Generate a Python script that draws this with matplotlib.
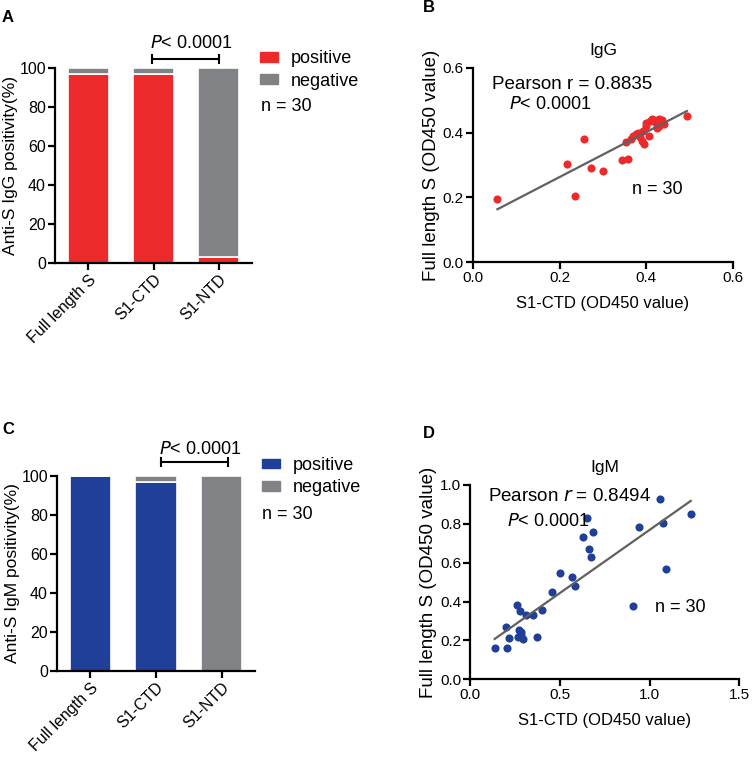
import matplotlib

matplotlib.use("Agg")

import matplotlib.pyplot as plt
import numpy as np
from matplotlib.patches import Patch

plt.rcParams["font.family"] = ["Liberation Sans", "DejaVu Sans"]

# Bar panels (percent of 30 samples)
antigens = ["Full length S", "S1-CTD", "S1-NTD"]
igg_positive = [96.7, 96.7, 3.3]
igg_negative = [3.3, 3.3, 96.7]
igm_positive = [100.0, 96.7, 0.0]
igm_negative = [0.0, 3.3, 100.0]

# IgG scatter: S1-CTD vs full length S (OD450)
igg_ctd = [0.057, 0.236, 0.218, 0.256, 0.273, 0.301, 0.343, 0.358, 0.353, 0.493,
           0.365, 0.370, 0.375, 0.380, 0.385, 0.390, 0.395, 0.392, 0.398, 0.400,
           0.405, 0.408, 0.412, 0.418, 0.422, 0.425, 0.430, 0.435, 0.440, 0.428]
igg_full = [0.194, 0.203, 0.303, 0.379, 0.292, 0.281, 0.314, 0.320, 0.371, 0.450,
            0.380, 0.390, 0.395, 0.400, 0.385, 0.375, 0.365, 0.405, 0.420, 0.430,
            0.390, 0.435, 0.442, 0.440, 0.430, 0.415, 0.442, 0.438, 0.425, 0.420]

# IgM scatter
igm_ctd = [0.136, 0.206, 0.201, 0.216, 0.262, 0.279, 0.310, 0.351, 0.398, 0.273,
           0.283, 0.264, 0.292, 0.370, 0.455, 0.500, 0.565, 0.584, 0.626, 0.651,
           0.686, 0.660, 0.673, 0.905, 0.942, 1.056, 1.076, 1.089, 1.229, 0.283]
igm_full = [0.160, 0.163, 0.269, 0.214, 0.384, 0.350, 0.333, 0.329, 0.357, 0.254,
            0.245, 0.218, 0.208, 0.220, 0.448, 0.545, 0.528, 0.479, 0.734, 0.828,
            0.756, 0.671, 0.629, 0.377, 0.784, 0.928, 0.803, 0.568, 0.852, 0.228]

RED = "#ec2a2c"
GRAY = "#808285"
BLUE = "#1f3f98"
LINE = "#606060"

W, H = 752, 761
fig = plt.figure(figsize=(W / 100, H / 100), dpi=100)


def px_axes(left, top, right, bottom):
    return fig.add_axes([left / W, 1 - bottom / H, (right - left) / W, (bottom - top) / H])


def style(ax, labelsize):
    for side in ["top", "right"]:
        ax.spines[side].set_visible(False)
    for side in ["left", "bottom"]:
        ax.spines[side].set_linewidth(1.6)
    ax.tick_params(width=1.6, length=5, labelsize=labelsize, pad=1.5)


def bar_panel(ax, pos, neg, color, label, text_xy, bracket, leg_xy, n_xy):
    x = np.arange(len(antigens))
    ax.bar(x, pos, 0.63, color=color, edgecolor="white", linewidth=1.2)
    ax.bar(x, neg, 0.63, bottom=pos, color=GRAY, edgecolor="white", linewidth=1.2)
    ax.set_xlim(-0.51, 2.51)
    ax.set_ylim(0, 100)
    ax.set_yticks([0, 20, 40, 60, 80, 100])
    ax.set_xticks(x)
    ax.set_xticklabels(antigens, rotation=45, ha="right", rotation_mode="anchor")
    ax.set_ylabel(label, fontsize=12.5, labelpad=1)
    style(ax, 11.5)
    for t in ax.get_xticklabels():
        t.set_fontsize(11.5)

    x0, x1, yb, cap = bracket
    ax.plot([x0, x1], [yb, yb], color="black", lw=1.5, clip_on=False)
    ax.plot([x0, x0], [yb - cap, yb + cap], color="black", lw=1.5, clip_on=False)
    ax.plot([x1, x1], [yb - cap, yb + cap], color="black", lw=1.5, clip_on=False)
    ax.text(*text_xy, r"$\it{P}$< 0.0001", fontsize=13, ha="center",
            va="baseline", clip_on=False)

    handles = [Patch(color=color, label="positive"), Patch(color=GRAY, label="negative")]
    ax.legend(handles=handles, loc="center left", bbox_to_anchor=leg_xy,
              frameon=False, fontsize=13, handlelength=1.0, handleheight=0.45,
              handletextpad=0.7, labelspacing=0.3, borderpad=0, borderaxespad=0)
    ax.text(*n_xy, "n = 30", transform=ax.transAxes, fontsize=13, va="center")


def scatter_panel(ax, xs, ys, color, title, xmax, xstep, ymax, ystep, pearson, ptxt, ntxt):
    xs = np.asarray(xs)
    ys = np.asarray(ys)
    ax.scatter(xs, ys, s=34, color=color, zorder=3, linewidths=0)
    slope, icpt = np.polyfit(xs, ys, 1)
    xl = np.array([xs.min(), xs.max()])
    ax.plot(xl, slope * xl + icpt, color=LINE, lw=1.6, zorder=4)
    ax.set_xlim(0, xmax)
    ax.set_ylim(0, ymax)
    ax.set_xticks(np.arange(0, xmax + 1e-9, xstep))
    ax.set_yticks(np.arange(0, ymax + 1e-9, ystep))
    ax.xaxis.set_major_formatter(matplotlib.ticker.FormatStrFormatter("%.1f"))
    ax.yaxis.set_major_formatter(matplotlib.ticker.FormatStrFormatter("%.1f"))
    ax.set_title(title, fontsize=12.5, pad=9)
    ax.set_xlabel("S1-CTD (OD450 value)", fontsize=12, labelpad=8)
    ax.set_ylabel("Full length S (OD450 value)", fontsize=13.5, labelpad=2)
    style(ax, 11)
    ax.text(*pearson[:2], pearson[2], fontsize=13.5, va="center")
    ax.text(*ptxt, r"$\it{P}$< 0.0001", fontsize=13, va="center")
    ax.text(*ntxt, "n = 30", fontsize=13, va="center")


ax_a = px_axes(55, 67.7, 252, 263)
bar_panel(ax_a, igg_positive, igg_negative, RED, "Anti-S IgG positivity(%)",
          (1.58, 109.9), (0.97, 2.0, 104.3, 2.0), (1.041, 0.988), (1.046, 0.80))

ax_c = px_axes(57, 476, 255, 671)
bar_panel(ax_c, igm_positive, igm_negative, BLUE, "Anti-S IgM positivity(%)",
          (1.68, 111.4), (1.07, 2.1, 107.1, 2.0), (1.035, 0.996), (1.034, 0.805))

ax_b = px_axes(472.7, 67.7, 733.3, 262.3)
scatter_panel(ax_b, igg_ctd, igg_full, RED, "IgG", 0.6, 0.2, 0.6, 0.2,
              (0.044, 0.549, "Pearson r = 0.8835"), (0.084, 0.485), (0.367, 0.225))

ax_d = px_axes(470.3, 485, 739.3, 679.3)
scatter_panel(ax_d, igm_ctd, igm_full, BLUE, "IgM", 1.5, 0.5, 1.0, 0.2,
              (0.10, 0.943, r"Pearson $\it{r}$ = 0.8494"), (0.205, 0.811), (1.032, 0.371))

for lab, x, y in [("A", 2, 17), ("B", 423, 8), ("C", 2, 430), ("D", 423, 433)]:
    fig.text(x / W, 1 - y / H, lab, fontsize=12, fontweight="bold", va="center")

fig.savefig("out.png", dpi=100)
